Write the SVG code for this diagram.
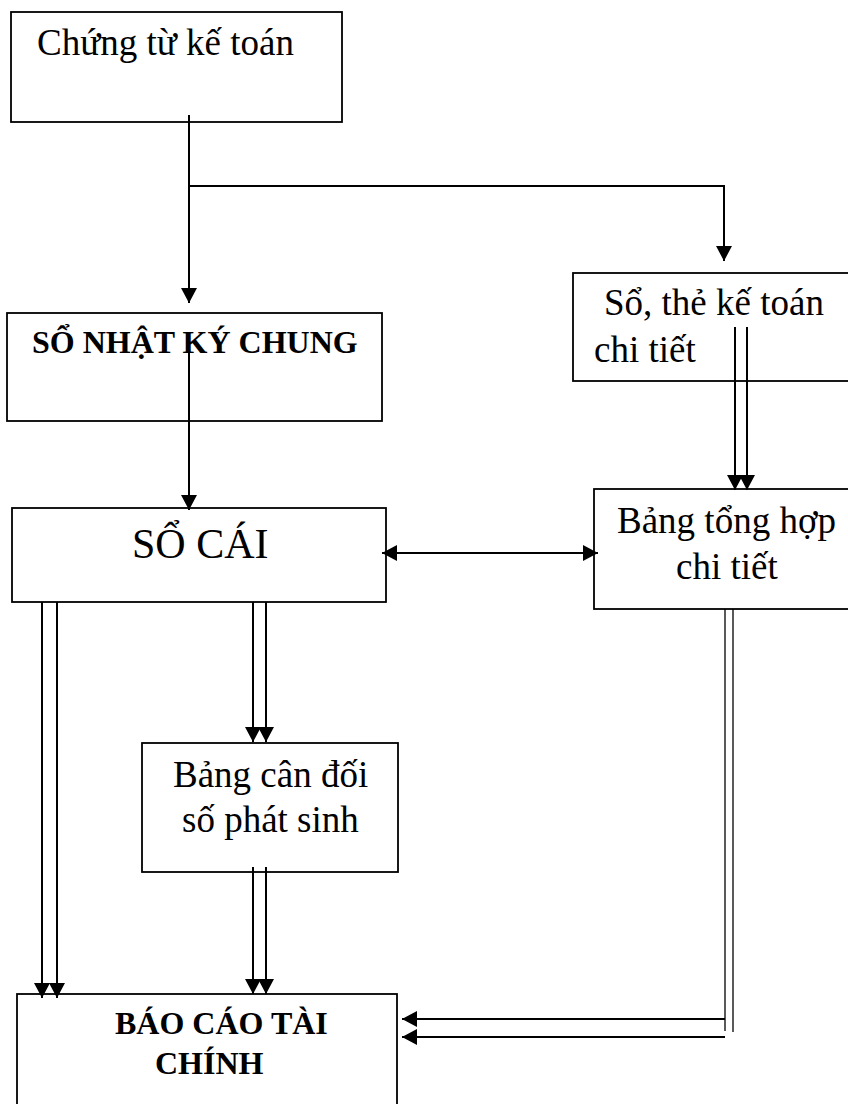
<svg xmlns="http://www.w3.org/2000/svg" width="848" height="1104" viewBox="0 0 848 1104">
<style>
.box{fill:#fff;stroke:#000;stroke-width:1.8}
.t{font-family:"Liberation Serif","Times New Roman",serif;font-size:37px;fill:#000}
.b{font-family:"Liberation Serif","Times New Roman",serif;font-size:32px;font-weight:bold;fill:#000}
.c{fill:none;stroke:#000;stroke-width:2}
.thin{fill:none;stroke:#000;stroke-width:1.3}
</style>
<defs>
<marker id="ah" markerUnits="userSpaceOnUse" markerWidth="16" markerHeight="16" refX="15" refY="8" orient="auto-start-reverse">
<path d="M0,0 L15,8 L0,16 z" fill="#000"/>
</marker>
</defs>
<rect width="848" height="1104" fill="#fff"/>
<g id="n-chungtu"><rect class="box" x="11" y="12" width="331" height="110"/><text class="t" x="37" y="55">Chứng từ kế toán</text></g>
<g id="n-nkc"><rect class="box" x="7" y="313" width="375" height="108"/><text class="b" x="32" y="353">SỔ NHẬT KÝ CHUNG</text></g>
<g id="n-socai"><rect class="box" x="12" y="508" width="374" height="94"/><text class="t" style="font-size:42px" x="132" y="558">SỔ CÁI</text></g>
<g id="n-sothe"><rect class="box" x="573" y="273" width="290" height="108"/><text class="t" x="604" y="315">Sổ, thẻ kế toán</text><text class="t" x="594" y="362">chi tiết</text></g>
<g id="n-bth"><rect class="box" x="594" y="489" width="270" height="120"/><text class="t" x="617" y="533">Bảng tổng hợp</text><text class="t" x="676" y="579">chi tiết</text></g>
<g id="n-bcd"><rect class="box" x="142" y="743" width="256" height="129"/><text class="t" x="173" y="787">Bảng cân đối</text><text class="t" x="182" y="832">số phát sinh</text></g>
<g id="n-bctc"><rect class="box" x="17" y="994" width="380" height="120"/><text class="b" x="115" y="1034">BÁO CÁO TÀI</text><text class="b" x="155" y="1074">CHÍNH</text></g>
<g id="connectors">
<path class="c" d="M189,115 V303" marker-end="url(#ah)"/>
<path class="c" d="M189,186 H724 V261" marker-end="url(#ah)"/>
<path class="c" d="M189,347 V510" marker-end="url(#ah)"/>
<path class="c" d="M735,327 V490" marker-end="url(#ah)"/>
<path class="c" d="M747,327 V490" marker-end="url(#ah)"/>
<path class="c" d="M382,553 H598" marker-start="url(#ah)" marker-end="url(#ah)"/>
<path class="c" d="M42,602 V998" marker-end="url(#ah)"/>
<path class="c" d="M57,602 V998" marker-end="url(#ah)"/>
<path class="c" d="M253,602 V742" marker-end="url(#ah)"/>
<path class="c" d="M266,602 V742" marker-end="url(#ah)"/>
<path class="c" d="M253,867 V994" marker-end="url(#ah)"/>
<path class="c" d="M266,867 V994" marker-end="url(#ah)"/>
<path class="thin" d="M725,609 V1031"/>
<path class="thin" d="M733,609 V1032"/>
<path class="c" d="M725,1019 H402" marker-end="url(#ah)"/>
<path class="c" d="M725,1037 H402" marker-end="url(#ah)"/>
</g>
</svg>
